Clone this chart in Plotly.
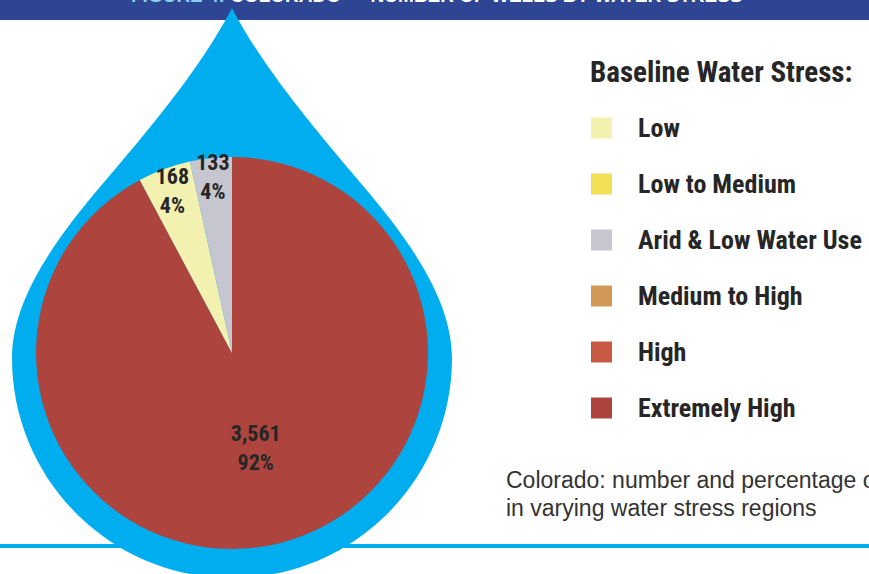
import plotly.graph_objects as go

W, H = 869, 574

# ---- data ----
categories = ["Low", "Low to Medium", "Arid & Low Water Use",
              "Medium to High", "High", "Extremely High"]
colors = ["#f3f1b0", "#f1df55", "#c6c6d0", "#d39853", "#c85a45", "#ad453e"]
well_counts = [168, 0, 133, 0, 0, 3561]
pct_labels = ["4%", "", "4%", "", "", "92%"]
# slice order, clockwise from 12 o'clock
pie_order = ["Extremely High", "Low", "Arid & Low Water Use"]

legend_title = "Baseline Water Stress:"
caption_lines = ["Colorado: number and percentage of wells",
                 "in varying water stress regions"]
banner_label = "FIGURE 4:"
banner_title = "COLORADO \u2014 NUMBER OF WELLS BY WATER STRESS"

# ---- styling ----
NARROW = "Roboto Condensed, Open Sans Condensed, DejaVu Sans Condensed, sans-serif"
REGULAR = "Liberation Sans, Arial, sans-serif"
DROP_BLUE = "#00aeef"
BANNER_BLUE = "#2e4594"
TEXT = "#262626"


def fx(x):
    return x / W


def fy(y):
    return 1 - y / H


def path_from(cmds):
    parts = []
    for c, pts in cmds:
        parts.append(c + " " + " ".join(f"{fx(x):.5f},{fy(y):.5f}" for x, y in pts))
    return " ".join(parts) + " Z"


idx = [categories.index(c) for c in pie_order]
pie_vals = [well_counts[i] for i in idx]
pie_cols = [colors[i] for i in idx]
pie_pcts = [pct_labels[i] for i in idx]

fig = go.Figure()

cx, cy, r = 232, 353, 196
fig.add_trace(go.Pie(
    labels=pie_order,
    values=pie_vals,
    text=pie_pcts,
    sort=False,
    direction="clockwise",
    rotation=0,
    marker=dict(colors=pie_cols, line=dict(width=0)),
    texttemplate="%{value:,}<br>%{text}",
    textposition="inside",
    insidetextorientation="horizontal",
    insidetextfont=dict(family=NARROW, size=22, color=TEXT, weight="bold"),
    hoverinfo="label+value",
    showlegend=False,
    domain=dict(x=[fx(cx - r), fx(cx + r)], y=[fy(cy + r), fy(cy - r)]),
))

shapes = []
# banner
shapes.append(dict(type="rect", xref="paper", yref="paper", layer="below",
                   x0=0, x1=1, y0=fy(20), y1=1,
                   fillcolor=BANNER_BLUE, line=dict(width=0)))
# bottom rule
shapes.append(dict(type="line", xref="paper", yref="paper", layer="below",
                   x0=0, x1=1, y0=fy(546), y1=fy(546),
                   line=dict(color=DROP_BLUE, width=4)))
# water drop
drop = [
    ("M", [(232, 8)]),
    ("C", [(264, 70), (319, 134), (364, 187)]),
    ("C", [(409, 240), (452, 300), (452, 358)]),
    ("C", [(452, 479.5), (353.5, 578), (232, 578)]),
    ("C", [(110.5, 578), (12, 479.5), (12, 358)]),
    ("C", [(12, 300), (55, 240), (100, 187)]),
    ("C", [(145, 134), (200, 70), (232, 8)]),
]
shapes.append(dict(type="path", xref="paper", yref="paper", layer="below",
                   path=path_from(drop), fillcolor=DROP_BLUE, line=dict(width=0)))

annotations = []
# banner text (mostly clipped at the top edge, as in the source)
annotations.append(dict(
    xref="paper", yref="paper", x=fx(437), y=1, xanchor="center", yanchor="bottom",
    yshift=-8, showarrow=False,
    text=f"<span style='color:#86cff2'>{banner_label}</span> {banner_title}",
    font=dict(family=REGULAR, size=19, color="white", weight="bold")))

# legend
annotations.append(dict(
    xref="paper", yref="paper", x=fx(588), y=fy(72), xanchor="left", yanchor="middle",
    showarrow=False, text=legend_title,
    font=dict(family=NARROW, size=29, color=TEXT, weight="bold")))
for i, (cat, col) in enumerate(zip(categories, colors)):
    yc = 128 + 56 * i
    shapes.append(dict(type="rect", xref="paper", yref="paper",
                       x0=fx(591), x1=fx(612), y0=fy(yc + 10.5), y1=fy(yc - 10.5),
                       fillcolor=col, line=dict(width=0)))
    annotations.append(dict(
        xref="paper", yref="paper", x=fx(636), y=fy(yc), xanchor="left", yanchor="middle",
        showarrow=False, text=cat,
        font=dict(family=NARROW, size=26, color=TEXT, weight="bold")))

# caption
for j, line in enumerate(caption_lines):
    annotations.append(dict(
        xref="paper", yref="paper", x=fx(504), y=fy(480 + 28 * j),
        xanchor="left", yanchor="middle", showarrow=False, text=line,
        font=dict(family=REGULAR, size=23, color="#333333")))

fig.update_layout(
    width=W, height=H,
    margin=dict(l=0, r=0, t=0, b=0),
    paper_bgcolor="white",
    plot_bgcolor="white",
    shapes=shapes,
    annotations=annotations,
    uniformtext=dict(minsize=22, mode="show"),
    showlegend=False,
)

fig.write_html("out.html", config={"displayModeBar": False},
               post_script="document.body.style.margin='0';")
